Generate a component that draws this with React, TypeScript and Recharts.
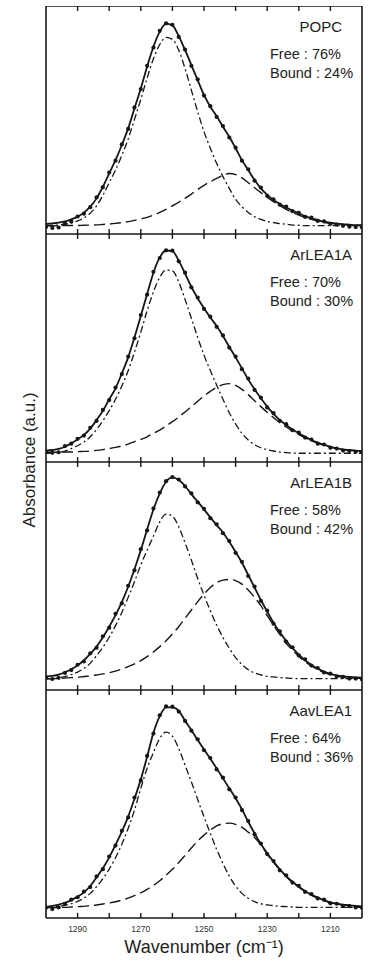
import { LineChart, Line, XAxis, YAxis, Label } from "recharts";

// wavenumber grid (cm-1), shared by every panel
const WAVENUMBER = [
  1300, 1298, 1296, 1294, 1292, 1290, 1288, 1286, 1284, 1282,
  1280, 1278, 1276, 1274, 1272, 1270, 1268, 1266, 1264, 1262,
  1260, 1258, 1256, 1254, 1252, 1250, 1248, 1246, 1244, 1242,
  1240, 1238, 1236, 1234, 1232, 1230, 1228, 1226, 1224, 1222,
  1220, 1218, 1216, 1214, 1212, 1210, 1208, 1206, 1204, 1202,
  1200,
];
const TICKS = [1290, 1280, 1270, 1260, 1250, 1240, 1230, 1220, 1210];
const LABELED_TICKS = [1290, 1270, 1250, 1230, 1210];

const SAMPLES = ["POPC", "ArLEA1A", "ArLEA1B", "AavLEA1"];
const FREE_PCT = [76, 70, 58, 64];
const BOUND_PCT = [24, 30, 42, 36];

// POPC
const POPC_DATA = [
  -0.006, -0.010, -0.008, 0.012, 0.022, 0.046, 0.060, 0.092, 0.140, 0.190,
  0.262, 0.320, 0.400, 0.476, 0.582, 0.672, 0.786, 0.876, 0.958, 0.995,
  0.988, 0.928, 0.866, 0.786, 0.720, 0.640, 0.588, 0.535, 0.490, 0.434,
  0.384, 0.320, 0.278, 0.222, 0.188, 0.148, 0.130, 0.104, 0.094, 0.072,
  0.064, 0.044, 0.040, 0.024, 0.022, 0.010, 0.006, 0.000, -0.004, -0.006,
  -0.008,
];
const POPC_FIT = [
  0.009, 0.012, 0.016, 0.022, 0.032, 0.045, 0.065, 0.094, 0.135, 0.192,
  0.258, 0.323, 0.397, 0.479, 0.577, 0.675, 0.782, 0.880, 0.954, 0.993,
  0.985, 0.932, 0.864, 0.790, 0.716, 0.643, 0.585, 0.539, 0.487, 0.438,
  0.381, 0.323, 0.274, 0.225, 0.184, 0.152, 0.127, 0.107, 0.091, 0.075,
  0.062, 0.048, 0.037, 0.029, 0.021, 0.016, 0.011, 0.008, 0.006, 0.004,
  0.003,
];
const POPC_FREE = [
  0.001, 0.003, 0.004, 0.008, 0.014, 0.024, 0.039, 0.062, 0.098, 0.150,
  0.212, 0.274, 0.346, 0.427, 0.523, 0.621, 0.726, 0.821, 0.891, 0.926,
  0.916, 0.864, 0.773, 0.667, 0.561, 0.463, 0.381, 0.307, 0.242, 0.184,
  0.130, 0.094, 0.066, 0.045, 0.032, 0.022, 0.016, 0.011, 0.008, 0.004,
  0.003, 0.001, 0.001, 0.001, 0.001, 0.001, 0.001, 0.001, 0.001, 0.001,
  0.001,
];
const POPC_BOUND = [
  0.000, 0.000, 0.001, 0.001, 0.002, 0.002, 0.003, 0.004, 0.005, 0.007,
  0.009, 0.012, 0.016, 0.021, 0.027, 0.034, 0.042, 0.053, 0.066, 0.081,
  0.098, 0.116, 0.135, 0.156, 0.179, 0.199, 0.217, 0.233, 0.248, 0.257,
  0.252, 0.236, 0.212, 0.187, 0.163, 0.140, 0.119, 0.099, 0.081, 0.066,
  0.053, 0.042, 0.032, 0.024, 0.017, 0.012, 0.009, 0.006, 0.004, 0.003,
  0.001,
];

// ArLEA1A
const ARLEA1A_DATA = [
  0.010, 0.005, 0.008, 0.038, 0.050, 0.074, 0.090, 0.128, 0.162, 0.216,
  0.264, 0.326, 0.392, 0.478, 0.568, 0.682, 0.782, 0.894, 0.962, 1.000,
  0.998, 0.946, 0.890, 0.818, 0.768, 0.712, 0.674, 0.624, 0.582, 0.522,
  0.478, 0.416, 0.370, 0.314, 0.276, 0.228, 0.200, 0.162, 0.146, 0.116,
  0.104, 0.080, 0.070, 0.050, 0.046, 0.030, 0.026, 0.016, 0.014, 0.010,
  0.008,
];
const ARLEA1A_FIT = [
  0.016, 0.019, 0.024, 0.035, 0.052, 0.071, 0.093, 0.124, 0.166, 0.212,
  0.268, 0.322, 0.395, 0.474, 0.572, 0.677, 0.785, 0.890, 0.965, 0.999,
  0.996, 0.949, 0.886, 0.821, 0.764, 0.715, 0.670, 0.628, 0.579, 0.526,
  0.474, 0.420, 0.366, 0.317, 0.273, 0.232, 0.196, 0.166, 0.142, 0.120,
  0.101, 0.084, 0.068, 0.055, 0.044, 0.035, 0.027, 0.022, 0.019, 0.016,
  0.014,
];
const ARLEA1A_FREE = [
  0.003, 0.004, 0.008, 0.014, 0.026, 0.040, 0.058, 0.084, 0.120, 0.163,
  0.212, 0.268, 0.333, 0.408, 0.500, 0.598, 0.703, 0.796, 0.867, 0.903,
  0.899, 0.845, 0.759, 0.666, 0.572, 0.485, 0.409, 0.338, 0.268, 0.202,
  0.147, 0.101, 0.068, 0.045, 0.030, 0.021, 0.014, 0.009, 0.006, 0.004,
  0.003, 0.003, 0.003, 0.003, 0.003, 0.003, 0.003, 0.003, 0.003, 0.003,
  0.003,
];
const ARLEA1A_BOUND = [
  0.008, 0.008, 0.008, 0.009, 0.009, 0.011, 0.012, 0.014, 0.017, 0.021,
  0.026, 0.032, 0.039, 0.048, 0.060, 0.071, 0.084, 0.101, 0.117, 0.137,
  0.158, 0.181, 0.206, 0.232, 0.258, 0.284, 0.307, 0.327, 0.340, 0.345,
  0.336, 0.317, 0.291, 0.261, 0.232, 0.204, 0.178, 0.153, 0.132, 0.112,
  0.094, 0.078, 0.065, 0.052, 0.042, 0.033, 0.026, 0.021, 0.017, 0.014,
  0.012,
];

// ArLEA1B
const ARLEA1B_DATA = [
  0.022, 0.014, 0.020, 0.044, 0.058, 0.084, 0.100, 0.140, 0.168, 0.224,
  0.266, 0.334, 0.386, 0.472, 0.548, 0.652, 0.744, 0.852, 0.930, 0.986,
  1.006, 0.994, 0.960, 0.926, 0.882, 0.850, 0.804, 0.774, 0.730, 0.692,
  0.634, 0.590, 0.520, 0.468, 0.398, 0.350, 0.286, 0.248, 0.198, 0.170,
  0.130, 0.110, 0.080, 0.068, 0.046, 0.040, 0.026, 0.024, 0.016, 0.016,
  0.012,
];
const ARLEA1B_FIT = [
  0.026, 0.029, 0.035, 0.047, 0.062, 0.081, 0.106, 0.137, 0.173, 0.219,
  0.271, 0.328, 0.392, 0.467, 0.553, 0.647, 0.749, 0.847, 0.926, 0.983,
  1.004, 0.991, 0.962, 0.922, 0.885, 0.847, 0.808, 0.770, 0.734, 0.688,
  0.638, 0.585, 0.525, 0.464, 0.402, 0.345, 0.291, 0.243, 0.202, 0.166,
  0.134, 0.106, 0.083, 0.065, 0.050, 0.039, 0.032, 0.027, 0.024, 0.022,
  0.021,
];
const ARLEA1B_FREE = [
  0.014, 0.016, 0.019, 0.026, 0.035, 0.048, 0.066, 0.091, 0.129, 0.170,
  0.219, 0.276, 0.341, 0.415, 0.492, 0.574, 0.647, 0.716, 0.786, 0.824,
  0.814, 0.762, 0.683, 0.598, 0.508, 0.426, 0.349, 0.279, 0.218, 0.165,
  0.119, 0.086, 0.060, 0.044, 0.034, 0.027, 0.024, 0.021, 0.019, 0.017,
  0.016, 0.016, 0.016, 0.016, 0.016, 0.016, 0.016, 0.016, 0.016, 0.016,
  0.016,
];
const ARLEA1B_BOUND = [
  0.016, 0.016, 0.017, 0.019, 0.021, 0.022, 0.026, 0.029, 0.034, 0.039,
  0.045, 0.053, 0.063, 0.075, 0.088, 0.104, 0.124, 0.147, 0.173, 0.202,
  0.235, 0.271, 0.312, 0.353, 0.394, 0.431, 0.464, 0.487, 0.500, 0.503,
  0.497, 0.480, 0.451, 0.415, 0.374, 0.325, 0.278, 0.233, 0.189, 0.156,
  0.125, 0.099, 0.078, 0.060, 0.045, 0.035, 0.029, 0.024, 0.021, 0.019,
  0.017,
];

// AavLEA1
const AAVLEA1_DATA = [
  0.010, 0.004, 0.012, 0.030, 0.050, 0.062, 0.090, 0.112, 0.164, 0.200,
  0.262, 0.316, 0.388, 0.454, 0.552, 0.636, 0.756, 0.866, 0.956, 1.000,
  0.998, 0.974, 0.928, 0.880, 0.838, 0.784, 0.746, 0.690, 0.650, 0.592,
  0.552, 0.490, 0.436, 0.372, 0.326, 0.274, 0.240, 0.194, 0.170, 0.134,
  0.118, 0.088, 0.078, 0.056, 0.050, 0.032, 0.030, 0.020, 0.018, 0.012,
  0.010,
];
const AAVLEA1_FIT = [
  0.014, 0.019, 0.026, 0.035, 0.048, 0.065, 0.086, 0.117, 0.160, 0.204,
  0.258, 0.319, 0.384, 0.458, 0.546, 0.641, 0.752, 0.870, 0.952, 0.995,
  0.995, 0.978, 0.929, 0.884, 0.834, 0.788, 0.742, 0.695, 0.646, 0.597,
  0.548, 0.494, 0.433, 0.376, 0.323, 0.278, 0.237, 0.199, 0.166, 0.138,
  0.114, 0.093, 0.075, 0.060, 0.047, 0.037, 0.030, 0.026, 0.022, 0.019,
  0.017,
];
const AAVLEA1_FREE = [
  0.012, 0.014, 0.017, 0.022, 0.030, 0.042, 0.058, 0.081, 0.114, 0.153,
  0.200, 0.256, 0.322, 0.400, 0.490, 0.597, 0.695, 0.773, 0.842, 0.873,
  0.853, 0.793, 0.711, 0.629, 0.542, 0.457, 0.376, 0.297, 0.228, 0.166,
  0.117, 0.081, 0.057, 0.040, 0.030, 0.024, 0.021, 0.017, 0.016, 0.014,
  0.012, 0.012, 0.012, 0.012, 0.012, 0.012, 0.012, 0.012, 0.012, 0.012,
  0.012,
];
const AAVLEA1_BOUND = [
  0.011, 0.011, 0.012, 0.012, 0.014, 0.016, 0.017, 0.021, 0.024, 0.029,
  0.034, 0.040, 0.048, 0.058, 0.070, 0.084, 0.101, 0.120, 0.143, 0.170,
  0.199, 0.232, 0.268, 0.304, 0.338, 0.367, 0.392, 0.412, 0.423, 0.426,
  0.420, 0.405, 0.382, 0.356, 0.320, 0.274, 0.233, 0.196, 0.163, 0.135,
  0.111, 0.089, 0.071, 0.057, 0.045, 0.035, 0.029, 0.024, 0.021, 0.017,
  0.016,
];

const PANELS = [
  { data: POPC_DATA, fit: POPC_FIT, free: POPC_FREE, bound: POPC_BOUND },
  { data: ARLEA1A_DATA, fit: ARLEA1A_FIT, free: ARLEA1A_FREE, bound: ARLEA1A_BOUND },
  { data: ARLEA1B_DATA, fit: ARLEA1B_FIT, free: ARLEA1B_FREE, bound: ARLEA1B_BOUND },
  { data: AAVLEA1_DATA, fit: AAVLEA1_FIT, free: AAVLEA1_FREE, bound: AAVLEA1_BOUND },
];

const INK = "#161616";
const FONT = '"Liberation Sans", Arial, Helvetica, sans-serif';
const W = 372;
const PANEL_TOP = 6;
const PANEL_H = 228;
const AXIS_H = 46;
const TICK_LEN = 5;
// y axes need 1px of room or recharts skips them; mirrored x axes take none
const Y_DOMAIN: [number, number] = [-0.04, 1.08];
const X_DOMAIN: [number, number] = [1200, 1300];
const TITLE_RIGHT = [342, 352, 352, 352];

function tableFor(p: typeof PANELS[number]) {
  return WAVENUMBER.map((w, i) => ({
    w,
    data: p.data[i],
    fit: p.fit[i],
    free: p.free[i],
    bound: p.bound[i],
  }));
}

const noLabel = () => <g />;

// mirrored bottom axis: y arrives at the inner end of the tick line
function bottomLabel(props: any) {
  const { x, y, payload } = props;
  if (!LABELED_TICKS.includes(payload.value)) return <g />;
  return (
    <text x={x} y={y + TICK_LEN + 14} textAnchor="middle" fontSize={8.5} fontFamily={FONT} fill="#333">
      {payload.value}
    </text>
  );
}

function Panel({ index }: { index: number }) {
  const last = index === PANELS.length - 1;
  const rows = tableFor(PANELS[index]);
  const frame = { stroke: INK, strokeWidth: 1.6 };
  const tickLine = { stroke: INK, strokeWidth: 1.4 };
  const margin = { top: 0, right: 9, bottom: last ? AXIS_H : 0, left: 45 };
  return (
    <div style={{ position: "absolute", left: 0, top: PANEL_TOP + index * PANEL_H }}>
      <LineChart width={W} height={PANEL_H + (last ? AXIS_H : 0)} data={rows} margin={margin}>
        <XAxis
          dataKey="w"
          type="number"
          domain={X_DOMAIN}
          reversed
          allowDataOverflow
          ticks={TICKS}
          interval={0}
          height={1}
          mirror
          axisLine={frame}
          tickLine={tickLine}
          tickSize={TICK_LEN}
          tickMargin={0}
          tick={last ? bottomLabel : noLabel}
        >
          {last && (
            <Label
              value="Wavenumber (cm⁻¹)"
              position="bottom"
              offset={22}
              style={{ fontSize: 18, fill: "#222", fontFamily: FONT }}
            />
          )}
        </XAxis>
        <XAxis
          xAxisId="top"
          orientation="top"
          dataKey="w"
          type="number"
          domain={X_DOMAIN}
          reversed
          allowDataOverflow
          ticks={TICKS}
          interval={0}
          height={1}
          mirror
          axisLine={frame}
          tickLine={tickLine}
          tickSize={TICK_LEN}
          tickMargin={0}
          tick={noLabel}
        />
        <YAxis type="number" domain={Y_DOMAIN} allowDataOverflow width={1} tick={false} tickLine={false} axisLine={frame} />
        <YAxis
          yAxisId="right"
          orientation="right"
          type="number"
          domain={Y_DOMAIN}
          allowDataOverflow
          width={1}
          tick={false}
          tickLine={false}
          axisLine={frame}
        />
        <Line type="monotone" dataKey="bound" stroke={INK} strokeWidth={1.4} strokeDasharray="11 5" dot={false} isAnimationActive={false} />
        <Line type="monotone" dataKey="free" stroke={INK} strokeWidth={1.3} strokeDasharray="7 3 2 3" dot={false} isAnimationActive={false} />
        <Line type="monotone" dataKey="fit" stroke={INK} strokeWidth={1.8} dot={false} isAnimationActive={false} />
        <Line dataKey="data" stroke="none" dot={{ r: 2.1, fill: INK, stroke: "none" }} activeDot={false} isAnimationActive={false} />
      </LineChart>
    </div>
  );
}

export default function App() {
  return (
    <div style={{ position: "relative", width: W, height: 963, background: "#fff" }}>
      <style>{"body{margin:0}"}</style>
      {PANELS.map((_, i) => (
        <Panel key={SAMPLES[i]} index={i} />
      ))}
      <svg width={W} height={963} style={{ position: "absolute", left: 0, top: 0, pointerEvents: "none" }}>
        {SAMPLES.map((name, i) => {
          const top = PANEL_TOP + i * PANEL_H;
          return (
            <g key={name} fontFamily={FONT} fill="#222">
              <text x={TITLE_RIGHT[i]} y={top + 25.5} textAnchor="end" fontSize={15}>
                {name}
              </text>
              <text x={270} y={top + 53} fontSize={14.5}>
                {`Free : ${FREE_PCT[i]}%`}
              </text>
              <text x={270} y={top + 72} fontSize={14.5}>
                {`Bound : ${BOUND_PCT[i]}%`}
              </text>
            </g>
          );
        })}
        <text
          x={29}
          y={460}
          transform="rotate(-90 29 460)"
          textAnchor="middle"
          dominantBaseline="central"
          fontSize={17}
          fontFamily={FONT}
          fill="#222"
        >
          Absorbance (a.u.)
        </text>
      </svg>
    </div>
  );
}
